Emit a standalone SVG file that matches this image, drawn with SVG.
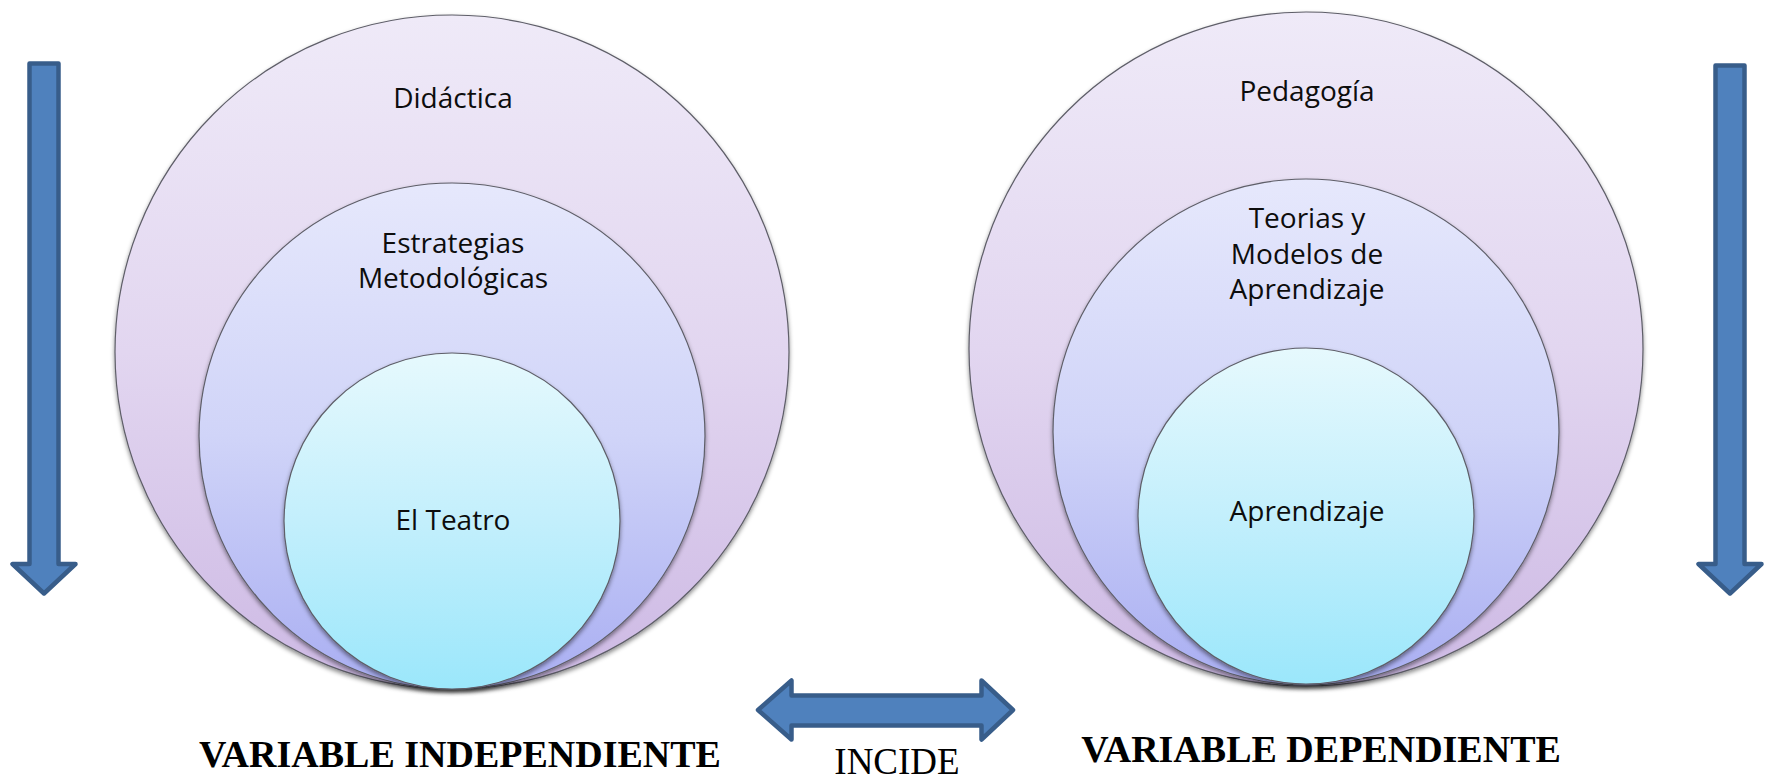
<svg xmlns="http://www.w3.org/2000/svg" width="1767" height="781" viewBox="0 0 1767 781">
<style>
.ring{stroke:#5e5e68;stroke-width:1.2;}
.lbl{font-family:"Open Sans","Noto Sans","Liberation Sans",sans-serif;font-size:28px;fill:#0d0d0d;text-anchor:middle;}
.var{font-family:"Liberation Serif","Times New Roman",serif;font-size:38px;font-weight:bold;fill:#000;text-anchor:middle;}
.inc{font-family:"Liberation Serif","Times New Roman",serif;font-size:37px;fill:#000;text-anchor:middle;}
.arr{fill:#4f81bd;stroke:#385d8a;stroke-width:4.5;stroke-linejoin:round;}
</style>
<defs>
<linearGradient id="gOuter" x1="0" y1="0" x2="0" y2="1">
<stop offset="0" stop-color="#efeaf8"/>
<stop offset="0.5" stop-color="#e2d6f0"/>
<stop offset="1" stop-color="#cdb9e4"/>
</linearGradient>
<linearGradient id="gMid" x1="0" y1="0" x2="0" y2="1">
<stop offset="0" stop-color="#e6e8fc"/>
<stop offset="0.5" stop-color="#d0d4f8"/>
<stop offset="1" stop-color="#a9aef2"/>
</linearGradient>
<linearGradient id="gIn" x1="0" y1="0" x2="0" y2="1">
<stop offset="0" stop-color="#e6f9fd"/>
<stop offset="0.5" stop-color="#c3effc"/>
<stop offset="1" stop-color="#9be7fb"/>
</linearGradient>
<filter id="sh" x="-10%" y="-10%" width="120%" height="120%">
<feDropShadow dx="0" dy="2.5" stdDeviation="2" flood-color="#000" flood-opacity="0.45"/>
</filter>
</defs>

<g id="left-set">
<g id="didactica">
<circle class="ring" cx="452" cy="352" r="337" fill="url(#gOuter)" filter="url(#sh)"/>
<text class="lbl" x="453" y="108">Didáctica</text>
</g>
<g id="estrategias">
<circle class="ring" cx="452" cy="436" r="253" fill="url(#gMid)" filter="url(#sh)"/>
<text class="lbl" x="453" y="253">Estrategias</text>
<text class="lbl" x="453" y="288">Metodológicas</text>
</g>
<g id="teatro">
<circle class="ring" cx="452" cy="521" r="168" fill="url(#gIn)" filter="url(#sh)"/>
<text class="lbl" x="453" y="530">El Teatro</text>
</g>
</g>

<g id="right-set">
<g id="pedagogia">
<circle class="ring" cx="1306" cy="349" r="337" fill="url(#gOuter)" filter="url(#sh)"/>
<text class="lbl" x="1307" y="101">Pedagogía</text>
</g>
<g id="teorias">
<circle class="ring" cx="1306" cy="432" r="253" fill="url(#gMid)" filter="url(#sh)"/>
<text class="lbl" x="1307" y="228">Teorias y</text>
<text class="lbl" x="1307" y="264">Modelos de</text>
<text class="lbl" x="1307" y="299">Aprendizaje</text>
</g>
<g id="aprendizaje">
<circle class="ring" cx="1306" cy="516" r="168" fill="url(#gIn)" filter="url(#sh)"/>
<text class="lbl" x="1307" y="521">Aprendizaje</text>
</g>
</g>

<g id="connectors">
<path id="arrow-left" class="arr" d="M29.5,63.5 H58.5 V564 H75.5 L44,593.5 L12.5,564 H29.5 Z"/>
<path id="arrow-right" class="arr" d="M1715.5,65.5 H1744.5 V564 H1761.5 L1730,593.5 L1698.5,564 H1715.5 Z"/>
<path id="arrow-incide" class="arr" d="M758,710 L791.5,680.5 V695.5 H981.5 V680.5 L1013,710 L981.5,739.5 V725.5 H791.5 V739.5 Z"/>
</g>

<g id="labels">
<text class="var" x="460" y="767">VARIABLE INDEPENDIENTE</text>
<text class="var" x="1321" y="762">VARIABLE DEPENDIENTE</text>
<text class="inc" x="897" y="774">INCIDE</text>
</g>
</svg>
